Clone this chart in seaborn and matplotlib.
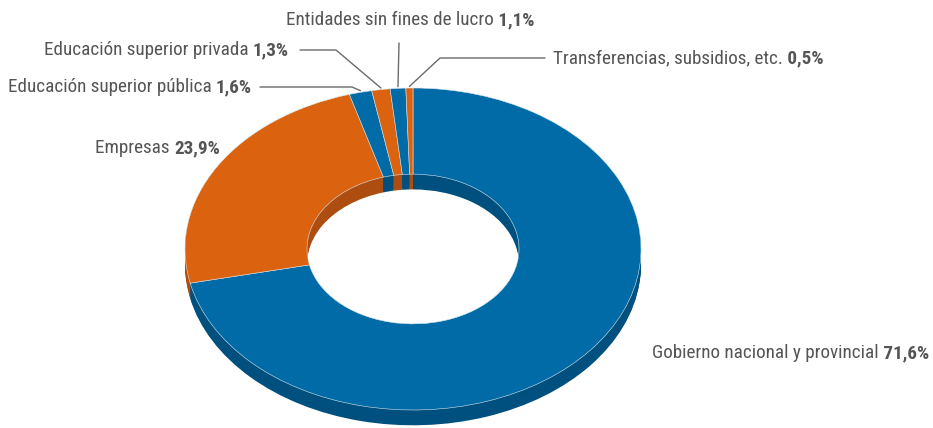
import numpy as np
import matplotlib
matplotlib.use("Agg")
import matplotlib.pyplot as plt
from matplotlib import font_manager
import seaborn as sns

sns.set_theme(style="white")

# Data
labels = ["Gobierno nacional y provincial", "Empresas", "Educación superior pública",
          "Educación superior privada", "Entidades sin fines de lucro",
          "Transferencias, subsidios, etc."]
values = [71.6, 23.9, 1.6, 1.3, 1.1, 0.5]
value_labels = ["71,6%", "23,9%", "1,6%", "1,3%", "1,1%", "0,5%"]
top_colors = ["#006ba6", "#db620e", "#006ba6", "#db620e", "#006ba6", "#db620e"]
side_colors = ["#00507f", "#ad4e10", "#00507f", "#ad4e10", "#00507f", "#ad4e10"]

# pick a narrow font if one is installed
available = {f.name for f in font_manager.fontManager.ttflist}
family = "DejaVu Sans"
for name in ["Liberation Sans Narrow", "Roboto Condensed", "Open Sans Condensed", "Roboto", "Noto Sans"]:
    if name in available:
        family = name
        break
plt.rcParams["font.family"] = [family, "DejaVu Sans"]

W, H = 933, 428
fig = plt.figure(figsize=(W / 100, H / 100), dpi=100)
ax = fig.add_axes([0, 0, 1, 1])

# ellipse geometry in pixels
cx, cy, rx, ry = 413, 249, 228, 161
depth = 0.095
inner = 0.465


def px(x, y):
    return (x - cx) / rx, (cy - y) / ry


# extruded sides: stacked darker copies
n_layers = 14
for i in range(n_layers, 0, -1):
    ax.pie(values, colors=side_colors, startangle=90, counterclock=False,
           center=(0, -depth * i / n_layers), radius=1,
           wedgeprops=dict(width=1 - inner, linewidth=0))

# top face
wedges, _ = ax.pie(values, colors=top_colors, startangle=90, counterclock=False,
                   center=(0, 0), radius=1,
                   wedgeprops=dict(width=1 - inner, linewidth=0.4, edgecolor="#d9e6ef"))

ax.set_aspect("auto")
ax.set_xlim(-cx / rx, (W - cx) / rx)
ax.set_ylim(-(H - cy) / ry, cy / ry)
ax.axis("off")

text_color = "#555555"
line_color = "#6b6b6b"
fs = 13.8

# label layout: (anchor x px, y px, alignment, elbow points in px)
layout = {
    0: dict(x=652, y=353, ha="left", path=None),
    1: dict(x=220, y=148, ha="right", path=None),
    2: dict(x=252, y=87, ha="right", path=[(260, 87), (352, 87)]),
    3: dict(x=289, y=50, ha="right", path=[(300, 50), (336, 50)]),
    4: dict(x=286, y=20, ha="left", path=[(399, 43)]),
    5: dict(x=553, y=58, ha="left", path=[(545, 58), (440, 58)]),
}

for i, w in enumerate(wedges):
    lay = layout[i]
    tx, ty = px(lay["x"], lay["y"])
    if lay["ha"] == "left":
        t = ax.text(tx, ty, labels[i], ha="left", va="center", fontsize=fs, color=text_color)
        ax.annotate(" " + value_labels[i], xy=(1, 0.5), xycoords=t, ha="left", va="center",
                    fontsize=fs, fontweight="bold", color=text_color)
    else:
        t = ax.text(tx, ty, value_labels[i], ha="right", va="center", fontsize=fs,
                    fontweight="bold", color=text_color)
        ax.annotate(labels[i] + " ", xy=(0, 0.5), xycoords=t, ha="right", va="center",
                    fontsize=fs, color=text_color)
    if lay["path"]:
        mid = np.deg2rad((w.theta1 + w.theta2) / 2)
        end = (np.cos(mid), np.sin(mid) + 0.01)
        pts = [px(*p) for p in lay["path"]] + [end]
        xs, ys = zip(*pts)
        ax.plot(xs, ys, color=line_color, linewidth=1)

fig.savefig("out.png", dpi=100)
